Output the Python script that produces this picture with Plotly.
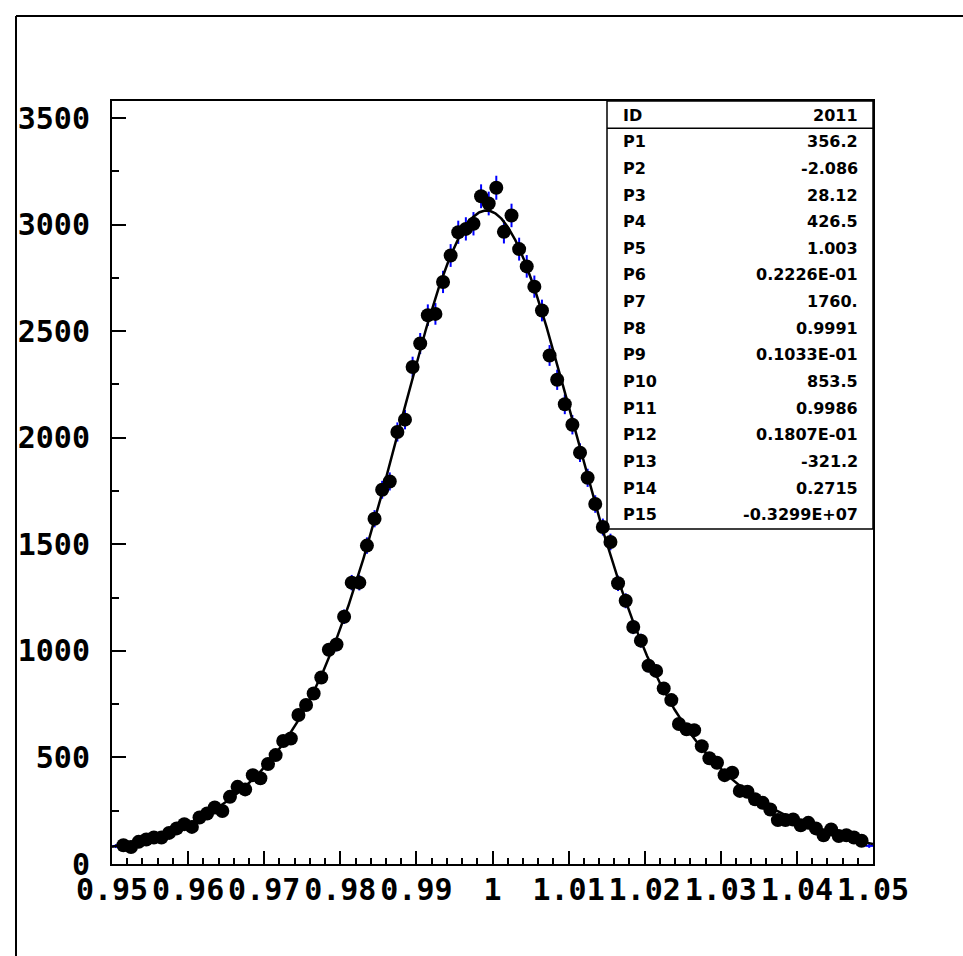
import numpy as np
import plotly.graph_objects as go

# ---------------- data ----------------
x_min, x_max, n_bins = 0.95, 1.05, 100
counts = [
    84, 88, 80, 104, 115, 124, 124, 146, 167, 187,
    174, 218, 237, 265, 249, 315, 362, 350, 417, 402,
    469, 511, 577, 589, 699, 746, 800, 875, 1005, 1030,
    1160, 1320, 1320, 1494, 1620, 1756, 1795, 2027, 2085, 2332,
    2442, 2575, 2581, 2731, 2855, 2964, 2980, 3004, 3133, 3099,
    3173, 2966, 3043, 2885, 2804, 2709, 2597, 2386, 2272, 2157,
    2061, 1930, 1812, 1689, 1581, 1511, 1317, 1235, 1112, 1048,
    930, 906, 824, 769, 657, 632, 628, 553, 496, 475,
    417, 428, 343, 339, 304, 287, 256, 206, 206, 209,
    182, 193, 167, 135, 162, 131, 135, 124, 109, 85,
]
hist_id = "2011"
param_names = ["P1", "P2", "P3", "P4", "P5", "P6", "P7", "P8", "P9", "P10",
               "P11", "P12", "P13", "P14", "P15"]
param_values = [356.2, -2.086, 28.12, 426.5, 1.003, 0.2226e-01, 1760.0, 0.9991,
                0.1033e-01, 853.5, 0.9986, 0.1807e-01, -321.2, 0.2715, -0.3299e+07]
param_labels = ["356.2", "-2.086", "28.12", "426.5", "1.003", "0.2226E-01", "1760.",
                "0.9991", "0.1033E-01", "853.5", "0.9986", "0.1807E-01", "-321.2",
                "0.2715", "-0.3299E+07"]
x_tickvals = [0.95, 0.96, 0.97, 0.98, 0.99, 1.00, 1.01, 1.02, 1.03, 1.04, 1.05]
x_ticktext = ["0.95", "0.96", "0.97", "0.98", "0.99", "1", "1.01", "1.02", "1.03", "1.04", "1.05"]
y_tickvals = [0, 500, 1000, 1500, 2000, 2500, 3000, 3500]
y_ticktext = ["0", "500", "1000", "1500", "2000", "2500", "3000", "3500"]

# ---------------- derived ----------------
bw = (x_max - x_min) / n_bins
centers = np.array([x_min + (i + 0.5) * bw for i in range(n_bins)])
vals = np.array(counts, dtype=float)
errs = np.sqrt(vals)

# fit function: sum of five gaussians with the parameters of the stats box
xf = np.linspace(x_min, x_max, 1001)
yf = np.zeros_like(xf)
for k in range(5):
    a, mu, sg = param_values[3 * k], param_values[3 * k + 1], param_values[3 * k + 2]
    yf += a * np.exp(-0.5 * ((xf - mu) / sg) ** 2)

# ---------------- layout geometry ----------------
W, H = 963, 956
L, R, T, B = 112, 90, 101, 92
PW, PH = W - L - R, H - T - B


def px(xp):
    return (xp - L) / PW


def py(yp):
    return (H - B - yp) / PH


fig = go.Figure()

# error bars for every bin (blue), markers hidden
fig.add_trace(go.Scatter(
    x=centers, y=vals, mode="markers",
    marker=dict(color="rgba(0,0,0,0)", size=1),
    error_y=dict(type="data", array=errs, color="blue", thickness=2, width=0),
    error_x=dict(type="constant", value=bw / 2, color="blue", thickness=2, width=0),
    hoverinfo="skip", showlegend=False, cliponaxis=True,
))
# markers (edge bins not drawn, as they would cross the frame)
fig.add_trace(go.Scatter(
    x=centers[1:-1], y=vals[1:-1], mode="markers",
    marker=dict(color="black", size=14, line=dict(width=0)),
    showlegend=False,
))
# fit curve
fig.add_trace(go.Scatter(
    x=xf, y=yf, mode="lines", line=dict(color="black", width=2.5),
    showlegend=False, hoverinfo="skip",
))

tick_font = dict(family="DejaVu Sans Mono", size=30, color="black", weight="bold")

fig.update_layout(
    width=W, height=H,
    margin=dict(l=L, r=R, t=T, b=B, pad=0),
    paper_bgcolor="white", plot_bgcolor="white",
    showlegend=False,
    xaxis=dict(
        range=[x_min, x_max], tickmode="array", tickvals=x_tickvals, ticktext=x_ticktext,
        ticks="inside", ticklen=13, tickwidth=2, tickcolor="black", tickangle=0,
        minor=dict(ticks="inside", dtick=0.002, tick0=0.95, ticklen=6, tickwidth=1.5,
                   tickcolor="black", showgrid=False),
        showline=True, linecolor="black", linewidth=2, mirror=True,
        showgrid=False, zeroline=False, tickfont=tick_font, ticklabelstandoff=-2,
    ),
    yaxis=dict(
        range=[0, 3580], tickmode="array", tickvals=y_tickvals, ticktext=y_ticktext,
        ticks="inside", ticklen=14, tickwidth=2, tickcolor="black",
        minor=dict(ticks="inside", dtick=250, tick0=0, ticklen=7, tickwidth=1.5,
                   tickcolor="black", showgrid=False),
        showline=True, linecolor="black", linewidth=2, mirror=True,
        showgrid=False, zeroline=False, tickfont=tick_font, ticklabelstandoff=14,
    ),
)

shapes = []
# outer canvas border (left and top)
shapes.append(dict(type="line", xref="paper", yref="paper",
                   x0=px(16), y0=py(960), x1=px(16), y1=py(16),
                   line=dict(color="black", width=2)))
shapes.append(dict(type="line", xref="paper", yref="paper",
                   x0=px(16), y0=py(16), x1=px(970), y1=py(16),
                   line=dict(color="black", width=2)))
# stats box
box_l, box_r, box_t, box_b = 607, 873, 101, 529
shapes.append(dict(type="rect", xref="paper", yref="paper",
                   x0=px(box_l), y0=py(box_b), x1=px(box_r), y1=py(box_t),
                   line=dict(color="black", width=1.5), fillcolor="rgba(0,0,0,0)"))
shapes.append(dict(type="line", xref="paper", yref="paper",
                   x0=px(box_l), y0=py(128.3), x1=px(box_r), y1=py(128.3),
                   line=dict(color="black", width=1.5)))
fig.update_layout(shapes=shapes)

box_font = dict(family="DejaVu Sans", size=16, color="black", weight="bold")
rows = [("ID", hist_id)] + list(zip(param_names, param_labels))
row_y = [115.7] + [141.7 + 26.65 * k for k in range(len(param_names))]
annotations = []
for (lab, val), yy in zip(rows, row_y):
    annotations.append(dict(xref="paper", yref="paper", x=px(621), y=py(yy), text=lab,
                            showarrow=False, xanchor="left", yanchor="middle", font=box_font))
    annotations.append(dict(xref="paper", yref="paper", x=px(860), y=py(yy), text=val,
                            showarrow=False, xanchor="right", yanchor="middle", font=box_font))
fig.update_layout(annotations=annotations)

fig.write_html("out.html")
